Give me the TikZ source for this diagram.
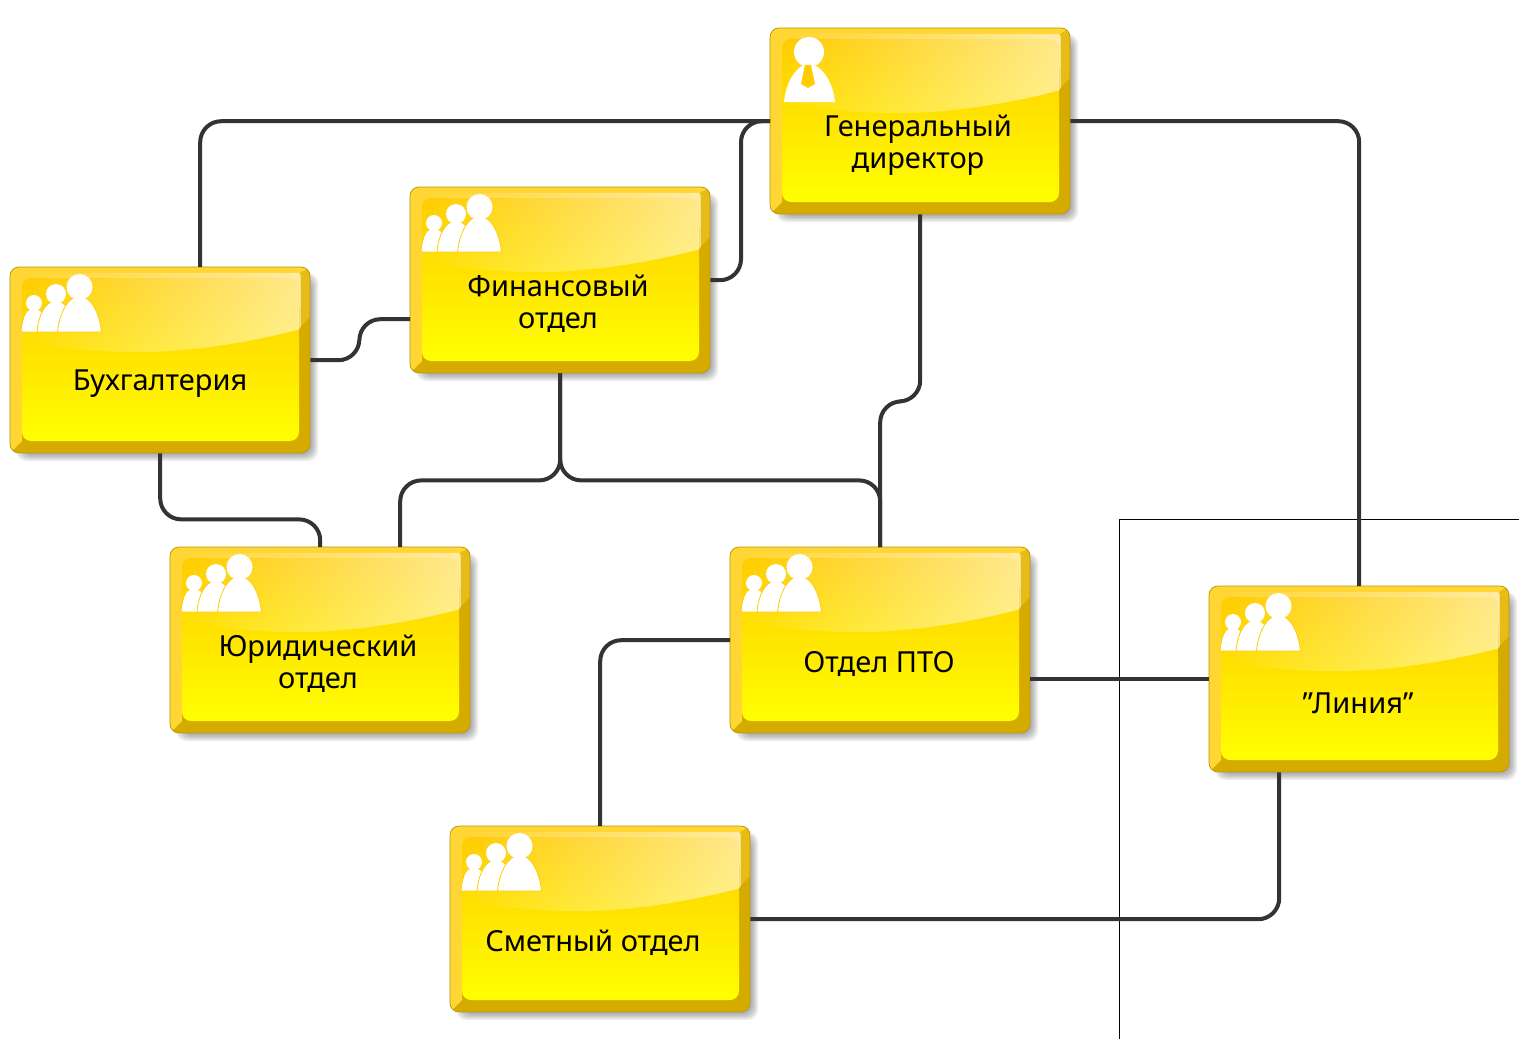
\documentclass[tikz,border=0pt]{standalone}
\usepackage{fontspec}
\setmainfont{Noto Sans}
\usetikzlibrary{fadings}
\definecolor{bevlight}{HTML}{FFD633}
\definecolor{bevdark}{HTML}{D6AB00}
\definecolor{edgecol}{HTML}{B8960A}
\definecolor{facetop}{HTML}{FFCC00}
\definecolor{facebot}{HTML}{FFFF00}
\definecolor{linkcol}{HTML}{333333}
\newcommand{\orgfig}[5]{%
  \fill[white,draw=facetop,line width=0.8pt] (#1-#4,#5) .. controls (#1-#4+2,#5-20) and (#1-#4*0.5,#2+#3*0.7) .. (#1,#2+#3*0.7)
    .. controls (#1+#4*0.5,#2+#3*0.7) and (#1+#4-2,#5-20) .. (#1+#4,#5) -- cycle;
  \fill[white] (#1,#2) circle (#3pt);
}
\tikzset{
  orgbox/.style={anchor=north west,minimum width=300pt,minimum height=186pt,inner sep=0pt},
  orglabel/.style={font=\bfseries\fontsize{29}{32}\selectfont,align=center,text=black},
  link/.style={draw=linkcol,line width=4pt,rounded corners=21pt},
  person/.pic={
    \fill[white] (14,74) .. controls (16,55) and (24,40) .. (39,34) .. controls (54,40) and (63,55) .. (65,74) -- cycle;
    \fill[white] (39,24) circle (15pt);
    \fill[facetop] (35,37) -- (41,37) -- (45,56) -- (38,60) -- (31,56) -- cycle;
  },
  group/.pic={
    \orgfig{24}{36}{8}{13}{65}
    \orgfig{46}{27}{10}{19}{65}
    \orgfig{69.5}{20}{13}{22}{65}
  }
}
\begin{document}
\begin{tikzpicture}[x=1pt,y=-1pt]
\useasboundingbox (0,0) rectangle (1523,1041);
% thin frame
\coordinate (framea) at (1119,1039);
\coordinate (frameb) at (1119,519);
\coordinate (framec) at (1519,519);
\draw[black,line width=0.8pt] (framea) -- (frameb) -- (framec);

\foreach \nm/\x/\y/\ico/\dx/\lab in {
gen/770/28/person/-2/{Генеральный\\директор},
bukh/10/267/group/0/{Бухгалтерия},
fin/410/187/group/-2/{Финансовый\\отдел},
yur/170/547/group/-2/{Юридический\\отдел},
pto/730/547/group/-1/{Отдел ПТО},
lin/1209/586/group/-1/{"Линия"},
smet/450/826/group/-7/{Сметный отдел}}
{
  \begin{scope}[shift={(\x,\y)}]
    % shadow
    \foreach \s in {0,1.5,3,4.5,6}
      \fill[black,opacity=0.07,rounded corners=10pt] (6+\s,6+\s) rectangle (306-\s+2,192-\s+2);
    \node[orgbox] (\nm) at (0,0) {};
    \begin{scope}
      \clip[rounded corners=9pt] (0,0) rectangle (300,186);
      \fill[bevdark] (0,0) rectangle (300,186);
      \fill[bevlight] (0,0) -- (300,0) -- (290,40) -- (12,40) -- (12,174) -- (0,186) -- cycle;
      \fill[bevdark!60!bevlight] (290,6) -- (300,0) -- (300,50) -- (290,60) -- cycle;
    \end{scope}
    \draw[edgecol,line width=0.7pt,rounded corners=9pt] (0,0) rectangle (300,186);
    \shade[top color=facetop,bottom color=facebot,rounded corners=9pt] (12,11) rectangle (289,174);
    \fill[white,fill opacity=0.55,path fading=west,rounded corners=3pt] (12,6) -- (291,6) -- (291,62)
      .. controls (230,78) and (170,85) .. (130,85) .. controls (80,85) and (40,80) .. (12,72) -- cycle;
    \pic at (0,0) {\ico};
    \node[orglabel] (\nm-text) at (150+\dx,117) {\lab};
  \end{scope}
}

\draw[link] (gen.west) -| ([xshift=40pt]bukh.north);
\draw[link] (gen.west) -- ++(-29,0) |- (fin.east);
\draw[link] (gen.east) -| (lin.north);
\draw[link] (gen.south) -- ++(0,187) -| (pto.north);
\draw[link] (bukh.east) -- ++(49,0) |- ([yshift=-39pt]fin.west);
\draw[link] (bukh.south) -- ++(0,66) -| (yur.north);
\draw[link] (fin.south) -- ++(0,107) -| ([xshift=80pt]yur.north);
\draw[link] (fin.south) -- ++(0,107) -| (pto.north);
\draw[link] (pto.west) -| (smet.north);
\draw[link] ([yshift=-39pt]pto.east) -- (lin.west);
\draw[link] (smet.east) -| ([xshift=-80pt]lin.south);
\end{tikzpicture}
\end{document}
